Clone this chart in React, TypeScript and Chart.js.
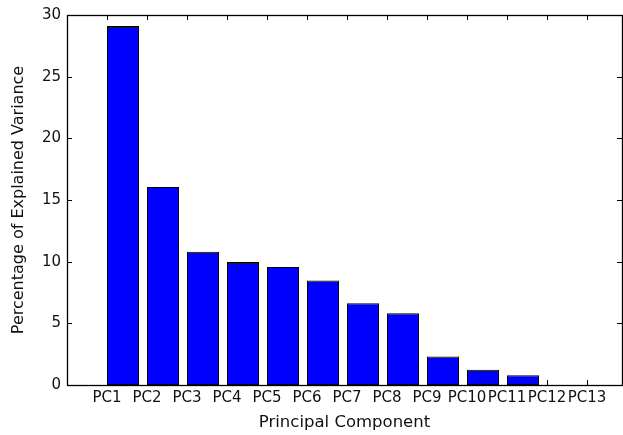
import React, { useEffect, useRef } from "react";
import { Chart, registerables } from "chart.js";

Chart.register(...registerables);

const categories = ["PC1", "PC2", "PC3", "PC4", "PC5", "PC6", "PC7", "PC8", "PC9", "PC10", "PC11", "PC12", "PC13"];
const variance = [29.1, 16.05, 10.8, 9.98, 9.56, 8.48, 6.63, 5.82, 2.31, 1.23, 0.8, 0, 0];
const yTicks = [0, 5, 10, 15, 20, 25, 30];
const xTitle = "Principal Component";
const yTitle = "Percentage of Explained Variance";

const FONT = "'DejaVu Sans', sans-serif";

const frameTicks = {
  id: "frameTicks",
  afterDraw(chart: any) {
    const { ctx, chartArea } = chart;
    const { left, right, top, bottom } = chartArea;
    const xs = chart.scales.x;
    const ys = chart.scales.y;
    const len = 5;
    ctx.save();
    ctx.strokeStyle = "#000";
    ctx.lineWidth = 1;
    ctx.beginPath();
    categories.forEach((_, i) => {
      const px = Math.round(xs.getPixelForValue(i)) + 0.5;
      ctx.moveTo(px, bottom);
      ctx.lineTo(px, bottom - len);
      ctx.moveTo(px, top);
      ctx.lineTo(px, top + len);
    });
    yTicks.forEach((v) => {
      const py = Math.round(ys.getPixelForValue(v)) + 0.5;
      ctx.moveTo(left, py);
      ctx.lineTo(left + len, py);
      ctx.moveTo(right, py);
      ctx.lineTo(right - len, py);
    });
    ctx.stroke();
    ctx.lineWidth = 1.3;
    ctx.strokeRect(Math.round(left) + 0.5, Math.round(top) + 0.5, Math.round(right - left), Math.round(bottom - top));
    ctx.restore();
  },
};

export default function App() {
  const ref = useRef<HTMLCanvasElement | null>(null);
  useEffect(() => {
    if (!ref.current) return;
    const chart = new Chart(ref.current, {
      type: "bar",
      data: {
        datasets: [
          {
            data: variance.map((v, i) => ({ x: i + 0.4, y: v })),
            backgroundColor: "#0000ff",
            borderColor: "#000",
            borderWidth: 1,
            borderSkipped: false,
            inflateAmount: 0,
            categoryPercentage: 1,
            barPercentage: 0.8,
          },
        ],
      },
      options: {
        responsive: false,
        animation: false,
        events: [],
        layout: { padding: { top: 13, right: 1, left: 0, bottom: 0 } },
        plugins: { legend: { display: false }, tooltip: { enabled: false } },
        scales: {
          x: {
            type: "linear",
            offset: false,
            min: -1,
            max: 12.875,
            grid: { display: false, drawTicks: false },
            border: { display: false },
            afterBuildTicks: (axis: any) => {
              axis.ticks = categories.map((_, i) => ({ value: i }));
            },
            afterFit: (scale: any) => {
              scale.height = 50;
            },
            ticks: {
              autoSkip: false,
              maxRotation: 0,
              minRotation: 0,
              padding: 4,
              color: "#111",
              font: { family: FONT, size: 15 },
              callback: (v: any) => categories[v] ?? "",
            },
            title: {
              display: true,
              text: xTitle,
              color: "#111",
              font: { family: FONT, size: 16.5 },
              padding: { top: 0, bottom: 2 },
            },
          },
          y: {
            min: 0,
            max: 30,
            grid: { display: false, drawTicks: false },
            border: { display: false },
            afterBuildTicks: (axis: any) => {
              axis.ticks = yTicks.map((v) => ({ value: v }));
            },
            afterFit: (scale: any) => {
              scale.width = 67;
            },
            ticks: {
              padding: 6,
              color: "#111",
              font: { family: FONT, size: 15 },
            },
            title: {
              display: true,
              text: yTitle,
              color: "#111",
              font: { family: FONT, size: 16 },
              padding: { top: 9, bottom: 0 },
            },
          },
        },
      },
      plugins: [frameTicks],
    });
    return () => chart.destroy();
  }, []);
  return (
    <div style={{ position: "fixed", left: 0, top: 0, width: 623, height: 435, background: "#fff" }}>
      <canvas ref={ref} width={623} height={435} style={{ display: "block" }} />
    </div>
  );
}
